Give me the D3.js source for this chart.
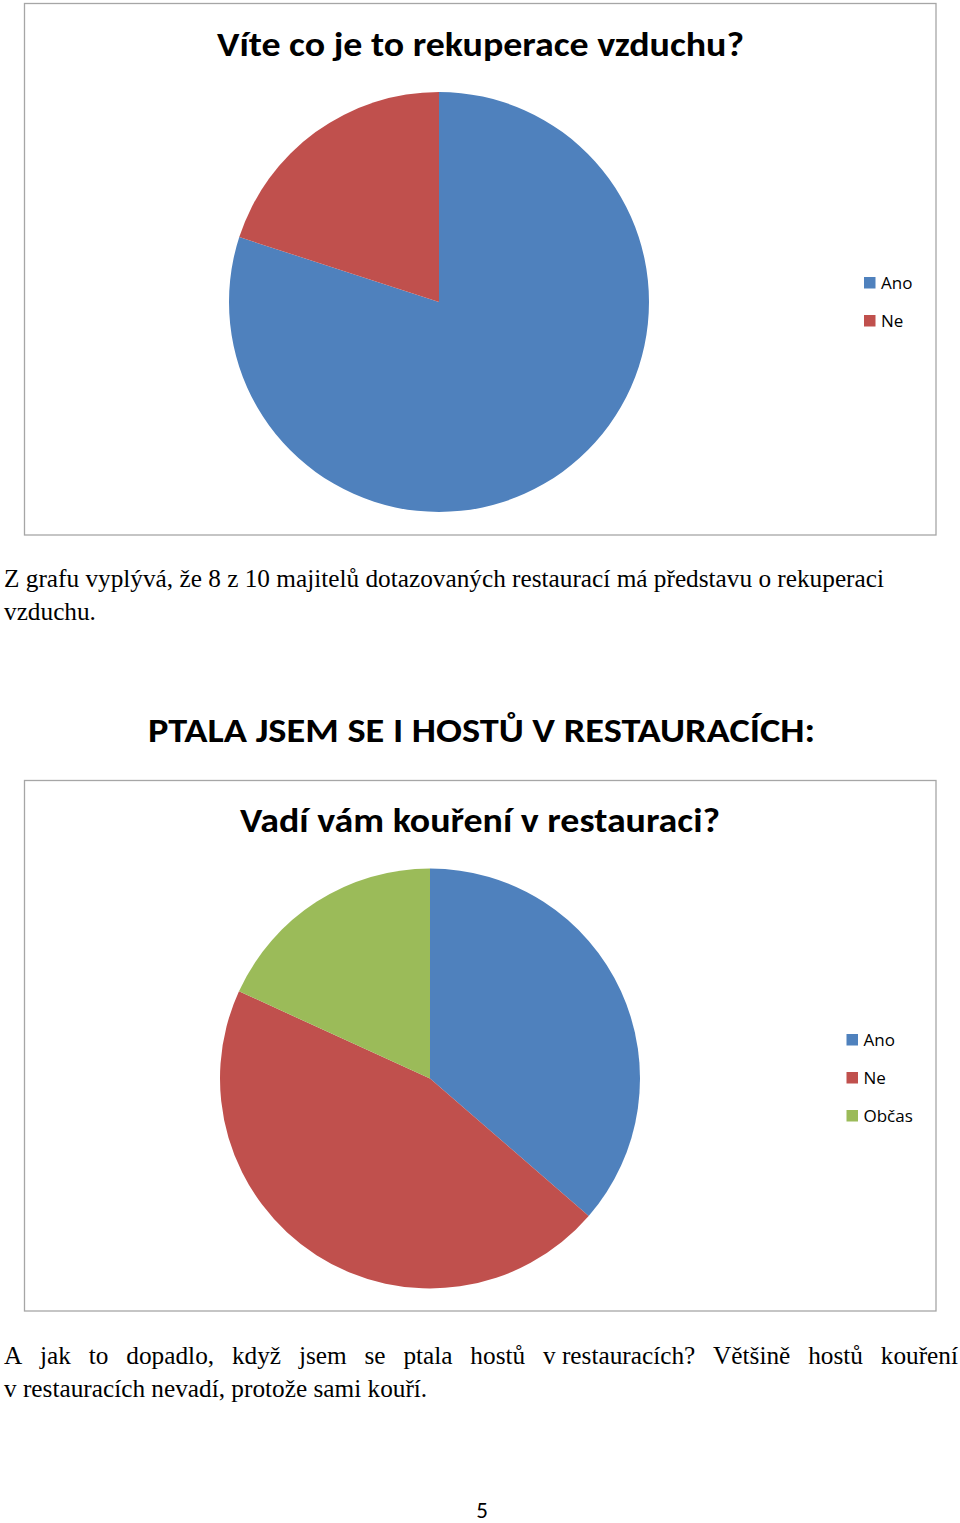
<!DOCTYPE html>
<html>
<head>
<meta charset="utf-8">
<script src="https://cdn.jsdelivr.net/npm/d3@7"></script>
<style>
  html, body { margin: 0; padding: 0; background: #fff; }
  svg { display: block; }
</style>
</head>
<body>
<script>
// ---- data ----
const chart1Title = "Víte co je to rekuperace vzduchu?";
const chart1Categories = ["Ano", "Ne"];
const chart1Values = [8, 2];

const chart2Title = "Vadí vám kouření v restauraci?";
const chart2Categories = ["Ano", "Ne", "Občas"];
const chart2Values = [4, 5, 2];

const seriesColors = ["#4F81BD", "#C0504D", "#9BBB59"];

const para1Lines = ["Z grafu vyplývá, že 8 z 10 majitelů dotazovaných restaurací má představu o rekuperaci", "vzduchu."];
const heading2 = "PTALA JSEM SE I HOSTŮ V RESTAURACÍCH:";
const para2Line1Words = ["A", "jak", "to", "dopadlo,", "když", "jsem", "se", "ptala", "hostů", "v\u00A0restauracích?", "Většině", "hostů", "kouření"];
const para2Line2 = "v restauracích nevadí, protože sami kouří.";
const pageNumber = "5";

// ---- drawing ----
const W = 960, H = 1523;
const svg = d3.select("body").append("svg").attr("width", W).attr("height", H);

const sans = "Calibri, Carlito, Lato, 'Open Sans', sans-serif";
const legendFont = "'Open Sans', Lato, sans-serif";
const serif = "Liberation Serif";

function drawChart(cfg) {
  const g = svg.append("g");
  g.append("rect")
    .attr("x", cfg.box[0]).attr("y", cfg.box[1])
    .attr("width", cfg.box[2]).attr("height", cfg.box[3])
    .attr("fill", "#fff").attr("stroke", "#a6a6a6").attr("stroke-width", 1.3);

  g.append("text")
    .attr("x", cfg.titleX).attr("y", cfg.titleY)
    .attr("text-anchor", "middle")
    .attr("font-family", sans).attr("font-weight", "bold")
    .attr("font-size", 34).attr("fill", "#000")
    .attr("textLength", cfg.titleW).attr("lengthAdjust", "spacingAndGlyphs")
    .text(cfg.title);

  const color = d3.scaleOrdinal().domain(cfg.categories).range(seriesColors);
  const pie = d3.pie().sort(null).value(d => d.v);
  const arc = d3.arc().innerRadius(0).outerRadius(cfg.r);
  const data = cfg.categories.map((c, i) => ({ c, v: cfg.values[i] }));

  g.append("g").attr("transform", `translate(${cfg.cx},${cfg.cy})`)
    .selectAll("path").data(pie(data)).join("path")
    .attr("d", arc)
    .attr("fill", d => color(d.data.c));

  const leg = g.append("g");
  const items = leg.selectAll("g").data(cfg.categories).join("g")
    .attr("transform", (d, i) => `translate(${cfg.legX},${cfg.legY + i * 38})`);
  items.append("rect").attr("x", 0).attr("y", -12).attr("width", 11.5).attr("height", 11.5)
    .attr("fill", d => color(d));
  items.append("text").attr("x", 17).attr("y", 0)
    .attr("font-family", legendFont).attr("font-size", 17).attr("fill", "#000")
    .text(d => d);
}

drawChart({
  box: [24.5, 3.5, 911.5, 531.5],
  title: chart1Title, titleX: 480.5, titleY: 56, titleW: 527,
  categories: chart1Categories, values: chart1Values,
  cx: 439, cy: 302, r: 210,
  legX: 864, legY: 289
});

drawChart({
  box: [24.5, 780.5, 911.5, 530.5],
  title: chart2Title, titleX: 480, titleY: 832, titleW: 480,
  categories: chart2Categories, values: chart2Values,
  cx: 430, cy: 1078.5, r: 210,
  legX: 846.5, legY: 1046
});

// heading between charts
svg.append("text")
  .attr("x", 481.5).attr("y", 742)
  .attr("text-anchor", "middle")
  .attr("font-family", sans).attr("font-weight", "bold")
  .attr("font-size", 34).attr("fill", "#000")
  .attr("textLength", 667).attr("lengthAdjust", "spacingAndGlyphs")
  .text(heading2);

// paragraphs
const fs = 25;
function serifText(x, y, str, width) {
  const t = svg.append("text").attr("x", x).attr("y", y)
    .attr("font-family", serif).attr("font-size", fs).attr("fill", "#000")
    .text(str);
  if (width) t.attr("textLength", width).attr("lengthAdjust", "spacingAndGlyphs");
  return t;
}
const l1 = serifText(4, 587, para1Lines[0]);
const natural1 = l1.node().getComputedTextLength();
const k = 880 / natural1;
l1.attr("textLength", 880).attr("lengthAdjust", "spacingAndGlyphs");
const l2 = serifText(4, 620, para1Lines[1]);
l2.attr("textLength", l2.node().getComputedTextLength() * k).attr("lengthAdjust", "spacingAndGlyphs");

// paragraph 2, justified first line
const widths = para2Line1Words.map(w => {
  const t = svg.append("text").attr("font-family", serif).attr("font-size", fs).text(w);
  const wd = t.node().getComputedTextLength() * k;
  t.remove();
  return wd;
});
const total = d3.sum(widths);
const left = 4, right = 958;
const gap = (right - left - total) / (para2Line1Words.length - 1);
let xpos = left;
para2Line1Words.forEach((w, i) => {
  serifText(xpos, 1364, w, widths[i]);
  xpos += widths[i] + gap;
});
const p2 = serifText(4, 1397, para2Line2);
p2.attr("textLength", p2.node().getComputedTextLength() * k).attr("lengthAdjust", "spacingAndGlyphs");

// page number
svg.append("text")
  .attr("x", 482).attr("y", 1518)
  .attr("text-anchor", "middle")
  .attr("font-family", sans).attr("font-size", 23).attr("fill", "#000")
  .text(pageNumber);
</script>
</body>
</html>
